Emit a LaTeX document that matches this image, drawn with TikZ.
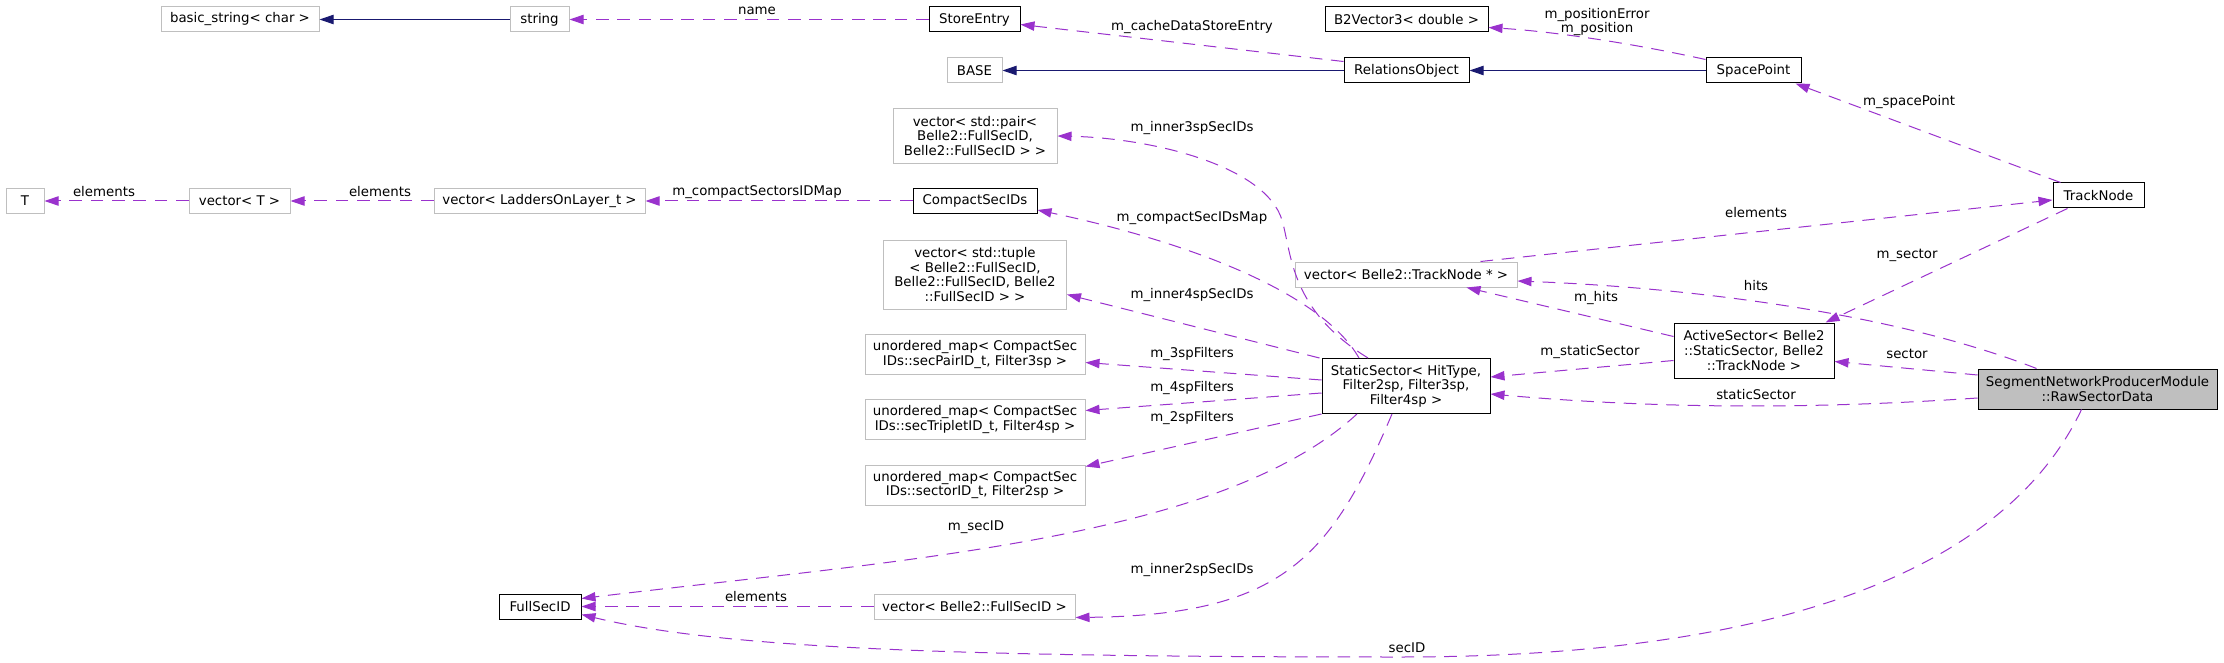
\documentclass[tikz,border=0pt]{standalone}
\usepackage{fontspec}
\setmainfont{DejaVu Sans}
\usetikzlibrary{arrows.meta,calc}
\definecolor{edgepurple}{HTML}{9A32CD}
\definecolor{inhblue}{HTML}{191970}
\definecolor{greyline}{HTML}{BFBFBF}
\begin{document}
\begin{tikzpicture}[x=0.75pt,y=-0.75pt,
  cls/.style={draw=black, line width=0.75pt, rectangle, inner sep=0pt, align=center, font=\fontsize{10}{11}\selectfont},
  ext/.style={cls, draw=greyline},
  cur/.style={cls, fill=greyline, draw=black},
  sz/.style 2 args={minimum width=#1*0.75pt, minimum height=#2*0.75pt},
  use/.style={draw=edgepurple, line width=0.75pt, dash pattern=on 9.5pt off 6.5pt, -{Triangle[length=10.5pt,width=7pt]}},
  inh/.style={draw=inhblue, line width=0.75pt, -{Triangle[length=10.5pt,width=7pt]}},
  lbl/.style={font=\fontsize{10}{11}\selectfont, inner sep=0pt, align=center}]
\fill[white] (0,0) rectangle (2224,663);
\useasboundingbox (0,0) rectangle (2224,663);
% nodes
\node[ext,sz={158}{25}] (bs) at (240,19.5) {basic\_string< char >};
\node[ext,sz={59}{25}] (str) at (539.5,19.5) {string};
\node[cls,sz={91}{25}] (se) at (974.5,19.5) {StoreEntry};
\node[cls,sz={163}{25}] (b2v) at (1406.5,19.5) {B2Vector3< double >};
\node[ext,sz={55}{25}] (base) at (974.5,70.5) {BASE};
\node[cls,sz={125}{25}] (ro) at (1406.5,70.5) {RelationsObject};
\node[cls,sz={95}{25}] (sp) at (1753.5,70.5) {SpacePoint};
\node[ext,sz={164}{55}] (pair) at (975,136) {vector< std::pair<\\Belle2::FullSecID,\\Belle2::FullSecID > >};
\node[ext,sz={38}{25}] (T) at (25,201) {T};
\node[ext,sz={101}{25}] (vT) at (239.5,201) {vector< T >};
\node[ext,sz={211}{25}] (lad) at (539.5,201) {vector< LaddersOnLayer\_t >};
\node[cls,sz={124}{25}] (csi) at (975,201) {CompactSecIDs};
\node[cls,sz={91}{25}] (tn) at (2098.5,195.5) {TrackNode};
\node[ext,sz={222}{25}] (vtn) at (1406,274.5) {vector< Belle2::TrackNode * >};
\node[ext,sz={183}{69}] (tup) at (975,274.5) {vector< std::tuple\\< Belle2::FullSecID,\\Belle2::FullSecID, Belle2\\::FullSecID > >};
\node[cls,sz={160}{55}] (as) at (1754,350.5) {ActiveSector< Belle2\\::StaticSector, Belle2\\::TrackNode >};
\node[ext,sz={220}{40}] (spair) at (975,354.5) {unordered\_map< CompactSec\\IDs::secPairID\_t, Filter3sp >};
\node[cls,sz={168}{55}] (ss) at (1406,386) {StaticSector< HitType,\\Filter2sp, Filter3sp,\\Filter4sp >};
\node[cur,sz={239}{40}] (rsd) at (2097.5,389) {SegmentNetworkProducerModule\\::RawSectorData};
\node[ext,sz={220}{40}] (strip) at (975,419.5) {unordered\_map< CompactSec\\IDs::secTripletID\_t, Filter4sp >};
\node[ext,sz={220}{40}] (sid) at (975,485) {unordered\_map< CompactSec\\IDs::sectorID\_t, Filter2sp >};
\node[cls,sz={82}{25}] (fsi) at (540,606.5) {FullSecID};
\node[ext,sz={201}{25}] (vfs) at (974.5,606.5) {vector< Belle2::FullSecID >};
% inheritance
\draw[inh] (str.west) -- (bs.east);
\draw[inh] (ro.west) -- (base.east);
\draw[inh] (sp.west) -- (ro.east);
% usage edges
\draw[use] (se.west) -- (str.east);
\draw[use] ($(ro.north west)+(0,4)$) -- ($(se.east)+(0,5)$);
\draw[use] ($(sp.north west)+(0,2)$) .. controls (1640,45) and (1560,32) .. ($(b2v.east)+(0,8)$);
\draw[use] ($(tn.north west)+(8,0)$) -- ($(sp.south east)+(-6,0)$);
\draw[use] ($(vtn.north east)+(-37,0)$) -- ($(tn.west)+(0,4.5)$);
\draw[use] ($(tn.south west)+(15,0)$) -- ($(as.north east)+(-9,0)$);
\draw[use] ($(rsd.north west)+(59,0)$) .. controls (1900,315) and (1700,288) .. ($(vtn.east)+(0,6.5)$);
\draw[use] ($(as.north west)+(0,14)$) -- ($(vtn.south east)+(-51,0)$);
\draw[use] ($(as.west)+(0,10)$) -- ($(ss.east)+(0,-9)$);
\draw[use] ($(rsd.west)+(0,-14)$) -- ($(as.east)+(0,11)$);
\draw[use] ($(rsd.west)+(0,9)$) .. controls (1800,410) and (1650,408) .. ($(ss.east)+(0,8)$);
\draw[use] ($(rsd.south west)+(104,0)$) .. controls (2010,560) and (1800,657) .. (1400,657) .. controls (950,657) and (720,648) .. ($(fsi.east)+(0,8)$);
\draw[use] ($(ss.north)+(-38,0)$) .. controls (1290,310) and (1292,255) .. (1282,220) .. controls (1265,165) and (1150,138) .. (pair.east);
\draw[use] ($(ss.north)+(-47,0)$) .. controls (1320,290) and (1180,240) .. ($(csi.south east)+(0,-4)$);
\draw[use] ($(ss.north west)+(-2,0)$) -- ($(tup.east)+(0,20)$);
\draw[use] ($(ss.west)+(0,-6)$) -- ($(spair.east)+(0,8)$);
\draw[use] ($(ss.west)+(0,7)$) -- ($(strip.east)+(0,-9)$);
\draw[use] (ss.south west) -- ($(sid.north east)+(0,2)$);
\draw[use] ($(ss.south)+(-49,0)$) .. controls (1220,540) and (900,560) .. ($(fsi.east)+(0,-8)$);
\draw[use] ($(ss.south)+(-14,0)$) .. controls (1330,560) and (1280,615) .. ($(vfs.east)+(0,11)$);
\draw[use] (vfs.west) -- (fsi.east);
\draw[use] (csi.west) -- (lad.east);
\draw[use] (lad.west) -- (vT.east);
\draw[use] (vT.west) -- (T.east);
% labels
\node[lbl] (l1) at (757,11) {name};
\node[lbl] (l2) at (1192,27) {m\_cacheDataStoreEntry};
\node[lbl] (l3) at (1597,22) {m\_positionError\\m\_position};
\node[lbl] (l4) at (1909,102) {m\_spacePoint};
\node[lbl] (l5) at (1756,213) {elements};
\node[lbl] (l6) at (1907,255) {m\_sector};
\node[lbl] (l7) at (1756,286) {hits};
\node[lbl] (l8) at (1596,298) {m\_hits};
\node[lbl] (l9) at (1590,352) {m\_staticSector};
\node[lbl] (l10) at (1907,354) {sector};
\node[lbl] (l11) at (1756,395) {staticSector};
\node[lbl] (l12) at (1407,648) {secID};
\node[lbl] (l13) at (1192,128) {m\_inner3spSecIDs};
\node[lbl] (l14) at (1192,218) {m\_compactSecIDsMap};
\node[lbl] (l15) at (1192,295) {m\_inner4spSecIDs};
\node[lbl] (l16) at (1192,354) {m\_3spFilters};
\node[lbl] (l17) at (1192,388) {m\_4spFilters};
\node[lbl] (l18) at (1192,418) {m\_2spFilters};
\node[lbl] (l19) at (976,527) {m\_secID};
\node[lbl] (l20) at (1192,570) {m\_inner2spSecIDs};
\node[lbl] (l21) at (756,597) {elements};
\node[lbl] (l22) at (757,192) {m\_compactSectorsIDMap};
\node[lbl] (l23) at (380,192) {elements};
\node[lbl] (l24) at (104,192) {elements};
\end{tikzpicture}
\end{document}
